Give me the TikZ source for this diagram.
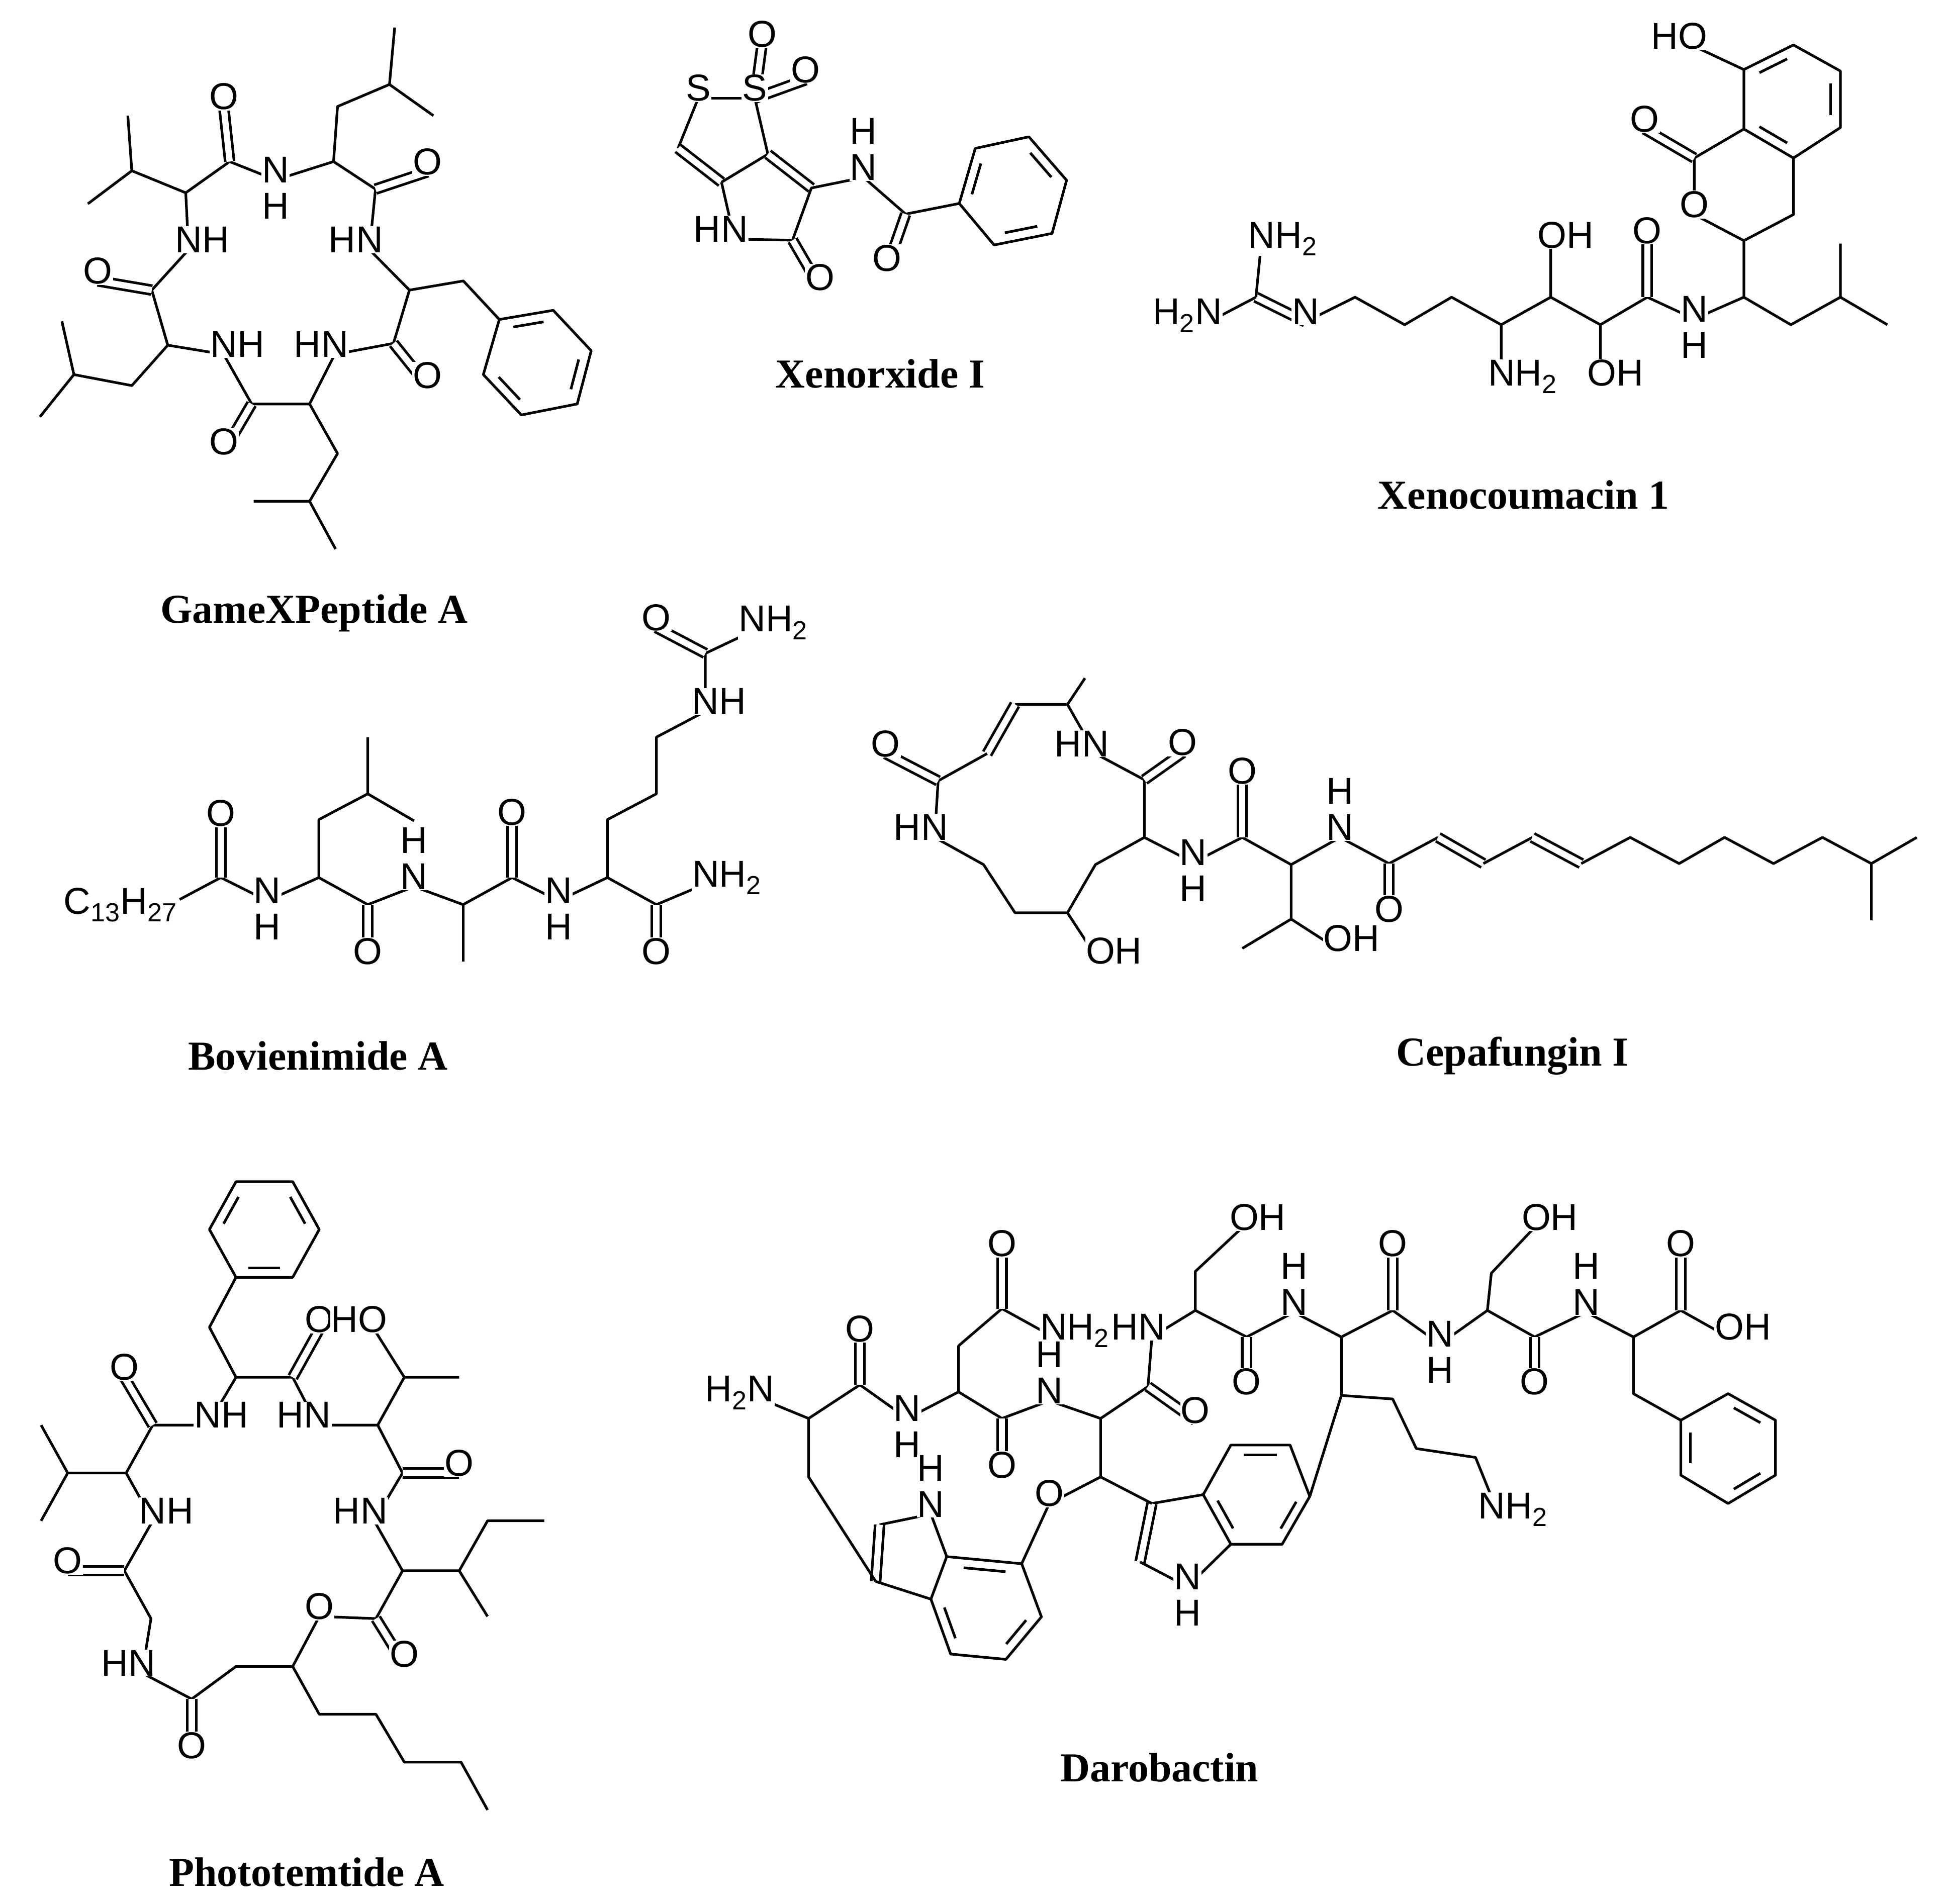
\documentclass[tikz,border=0pt]{standalone}
\usepackage{fontspec}
\setmainfont{Liberation Serif}
\newfontfamily\af{Liberation Sans}
\usetikzlibrary{calc}
\tikzset{atm/.style={font=\af\fontsize{30}{33}\selectfont,inner sep=0.5pt,fill=white,anchor=mid},
captxt/.style={font=\bfseries\fontsize{33}{37}\selectfont},
dbl/.style={double,double distance=5pt}}
\newcommand\A[2]{\node[atm] at (#1){#2};}
\newcommand\Hu[1]{\node[atm,yshift=29pt] at (#1){H};}
\newcommand\Hd[1]{\node[atm,yshift=-29pt] at (#1){H};}
\newcommand\Hr[1]{\node[atm,xshift=22pt] at (#1){H};}
\newcommand\Hl[1]{\node[atm,xshift=-22pt] at (#1){H};}
\newcommand\NHtwo[1]{\node[atm,anchor=mid west,xshift=-12pt] at (#1){NH\textsubscript{2}};}
\newcommand\HtwoN[1]{\node[atm,anchor=mid east,xshift=12pt] at (#1){H\textsubscript{2}N};}
\newcommand\OHr[1]{\node[atm,anchor=mid west,xshift=-12pt] at (#1){OH};}
\newcommand\HOl[1]{\node[atm,anchor=mid east,xshift=12pt] at (#1){HO};}
\newcommand\db[2]{\draw[dbl] (#1)--(#2);}
\newcommand\ar[3]{\draw ($(#1)!.15!(#2)!.2!(#3)$)--($(#2)!.15!(#1)!.2!(#3)$);}
\begin{document}
\begin{tikzpicture}[x=1pt,y=-1pt,line width=2.1pt,line join=round]
\useasboundingbox[fill=white] (0,0) rectangle (1560.9,1527.4);
% ---------------- GameXPeptide A
\begin{scope}[shift={(0pt,0pt)},x=0.3204pt,y=-0.2946pt]
\draw (988,75)--(975,230)--(1085,315);
\draw (975,230)--(845,290)--(835,440)--(690,490);
\draw (835,440)--(940,515)--(925,680)--(1025,790)--(1160,765)--(1250,870);
\db{940,515}{1070,468}
\draw (1250,870)--(1385,845)--(1480,955)--(1445,1100)--(1305,1130)--(1210,1020)--cycle;
\ar{1250,870}{1385,845}{1345,987}\ar{1480,955}{1445,1100}{1345,987}\ar{1305,1130}{1210,1020}{1345,987}
\draw (1025,790)--(985,935)--(838,965)--(775,1100)--(630,1100)--(560,965)--(420,940)--(330,1050)--(185,1020)--(155,875);
\db{985,935}{1070,1050}
\draw (775,1100)--(845,1235)--(775,1365)--(635,1365);
\draw (775,1365)--(840,1495);
\db{630,1100}{560,1230}
\draw (185,1020)--(100,1135);
\draw (420,940)--(380,790)--(472,680)--(465,525)--(330,465)--(320,315);
\db{380,790}{245,765}
\draw (330,465)--(220,555);
\draw (465,525)--(575,440)--(690,490);
\db{575,440}{560,290}
\A{560,290}{O}\A{690,490}{N}\Hd{690,490}\A{1070,468}{O}
\A{925,680}{N}\Hl{925,680}\A{1070,1050}{O}\A{838,965}{N}\Hl{838,965}
\A{560,1230}{O}\A{560,965}{N}\Hr{560,965}\A{245,765}{O}\A{472,680}{N}\Hr{472,680}
\end{scope}
\node[captxt] at (252,492) {GameXPeptide A};
% ---------------- Xenorxide I
\begin{scope}[shift={(515.9pt,-12.1pt)},x=0.2326pt,y=-0.1550pt]
\draw (190,430)--(385,430);
\db{385,430}{410,150}\db{385,430}{560,335}
\draw (190,430)--(120,690);
\db{120,690}{270,865}
\draw (270,865)--(430,720)--(385,430);
\db{430,720}{580,895}
\draw (270,865)--(315,1160)--(515,1165)--(580,895)--(760,840)--(905,1030)--(1090,975);
\db{515,1165}{610,1410}\db{905,1030}{840,1310}
\draw (1090,975)--(1145,690)--(1330,630)--(1460,855)--(1410,1130)--(1210,1190)--cycle;
\ar{1090,975}{1145,690}{1275,910}\ar{1330,630}{1460,855}{1275,910}\ar{1410,1130}{1210,1190}{1275,910}
\A{410,150}{O}\A{560,335}{O}\A{190,430}{S}\A{385,430}{S}
\A{315,1160}{N}\Hl{315,1160}\A{610,1410}{O}\A{760,840}{N}\Hu{760,840}\A{840,1310}{O}
\end{scope}
\node[captxt] at (706,300) {Xenorxide I};
% ---------------- Xenocoumacin 1
\begin{scope}[shift={(906.9pt,0pt)},x=0.4186pt,y=-0.2326pt]
\draw (1080,160)--(1175,240);
\draw (1270,155)--(1360,245)--(1360,440)--(1270,545)--(1175,445)--(1175,240)--cycle;
\ar{1175,240}{1270,155}{1267,345}\ar{1360,245}{1360,440}{1267,345}\ar{1270,545}{1175,445}{1267,345}
\draw (1175,445)--(1080,545)--(1080,740)--(1175,830)--(1270,740)--(1270,545);
\db{1080,545}{985,445}
\draw (1175,830)--(1175,1025)--(1265,1120)--(1360,1025)--(1360,840);
\draw (1360,1025)--(1450,1120);
\draw (1175,1025)--(1080,1100)--(990,1025)--(900,1120)--(900,1320);
\db{990,1025}{990,830}
\draw (900,1120)--(805,1025)--(805,845);
\draw (805,1025)--(710,1120)--(710,1320);
\draw (710,1120)--(615,1025)--(525,1120)--(430,1025)--(335,1110);
\db{335,1110}{240,1025}
\draw (240,1025)--(250,845);
\draw (240,1025)--(150,1110);
\HOl{1080,160}\A{985,445}{O}\A{1080,740}{O}\A{990,830}{O}
\A{1080,1100}{N}\Hd{1080,1100}
\OHr{900,1320}\OHr{805,845}\NHtwo{710,1320}
\A{335,1110}{N}\NHtwo{250,845}\HtwoN{150,1110}
\end{scope}
\node[captxt] at (1222,397) {Xenocoumacin 1};
% ---------------- Bovienimide A
\begin{scope}[shift={(24.2pt,-475.6pt)},x=0.4134pt,y=-0.2067pt]
\draw (290,1190)--(370,1105)--(460,1195)--(560,1105)--(655,1210)--(745,1140)--(840,1210)--(935,1105)--(1025,1195)--(1120,1105)--(1215,1210)--(1310,1130);
\db{370,1105}{370,895}\db{655,1210}{655,1430}\db{935,1105}{935,890}\db{1215,1210}{1215,1430}
\draw (560,1105)--(560,880)--(655,780)--(655,560);
\draw (655,780)--(745,885);
\draw (840,1210)--(840,1430);
\draw (1120,1105)--(1120,880)--(1215,780)--(1215,560)--(1310,460)--(1310,235)--(1400,150);
\db{1310,235}{1215,135}
\node[atm] at (175,1235) {C\textsubscript{13}H\textsubscript{27}};
\A{370,895}{O}\A{460,1195}{N}\Hd{460,1195}\A{655,1430}{O}
\A{745,1140}{N}\Hu{745,1140}\A{935,890}{O}\A{1025,1195}{N}\Hd{1025,1195}
\A{1215,1430}{O}\NHtwo{1310,1130}\A{1310,460}{N}\Hr{1310,460}\A{1215,135}{O}\NHtwo{1400,140}
\end{scope}
\node[captxt] at (255,847) {Bovienimide A};
% ---------------- Cepafungin I
\begin{scope}[shift={(685.2pt,-544.1pt)},x=0.5607pt,y=-0.1680pt]
\draw (330,0)--(305,125)--(230,125);
\db{230,125}{190,360}
\draw (305,125)--(345,360)--(415,485)--(415,760)--(345,890)--(305,1120)--(230,1120)--(185,890)--(115,760)--(120,490)--(190,360);
\db{120,490}{45,360}\db{415,485}{470,355}
\draw (305,1120)--(350,1350);
\draw (415,760)--(485,880)--(555,760)--(625,890)--(695,760)--(765,885)--(835,760);
\db{555,760}{555,490}
\draw (625,890)--(625,1150)--(555,1290);
\draw (625,1150)--(690,1290);
\db{765,885}{765,1150}
\db{835,760}{900,885}
\draw (900,885)--(970,760);
\db{970,760}{1040,885}
\draw (1040,885)--(1110,760)--(1180,885)--(1245,760)--(1315,885)--(1385,760)--(1455,885)--(1520,760);
\draw (1455,885)--(1455,1155);
\A{45,360}{O}\A{345,360}{N}\Hl{345,360}\A{470,355}{O}\A{115,760}{N}\Hl{115,760}
\OHr{350,1350}\A{485,880}{N}\Hd{485,880}\A{555,490}{O}\A{695,760}{N}\Hu{695,760}
\A{765,1150}{O}\OHr{690,1290}
\end{scope}
\node[captxt] at (1213,847) {Cepafungin I};
% ---------------- Phototemtide A
\begin{scope}[shift={(20.2pt,-927pt)},x=0.2842pt,y=-0.3488pt]
\draw (595,60)--(755,60)--(830,170)--(755,280)--(595,280)--(520,170)--cycle;
\ar{755,60}{830,170}{675,170}\ar{755,280}{595,280}{675,170}\ar{520,170}{595,60}{675,170}
\draw (595,280)--(520,395)--(595,510)--(755,510)--(825,620)--(995,620)--(1065,730)--(985,840)--(1065,955)--(990,1065)--(830,1060)--(755,1175)--(595,1175)--(470,1250)--(330,1190)--(355,1065)--(280,955)--(360,840)--(285,730)--(360,620)--(515,620)--(595,510);
\db{755,510}{830,400}\db{1065,730}{1225,730}\db{990,1065}{1070,1170}\db{470,1250}{470,1380}\db{280,955}{120,955}\db{360,620}{280,510}
\draw (995,620)--(1070,510)--(1225,510);
\draw (1070,510)--(985,400);
\draw (285,730)--(120,730)--(45,620);
\draw (120,730)--(45,840);
\draw (1065,955)--(1225,955)--(1305,840)--(1465,840);
\draw (1225,955)--(1305,1060);
\draw (755,1175)--(830,1285)--(990,1285)--(1070,1395)--(1230,1395)--(1305,1505);
\A{830,400}{O}\HOl{985,400}\A{280,510}{O}\A{515,620}{N}\Hr{515,620}
\A{825,620}{N}\Hl{825,620}\A{1225,730}{O}\A{360,840}{N}\Hr{360,840}
\A{985,840}{N}\Hl{985,840}\A{120,955}{O}\A{830,1060}{O}\A{1070,1170}{O}
\A{330,1190}{N}\Hl{330,1190}\A{470,1380}{O}
\end{scope}
\node[captxt] at (246,1502) {Phototemtide A};
% ---------------- Darobactin
\begin{scope}[shift={(544.1pt,-967.4pt)},x=0.6331pt,y=-0.2842pt]
\draw (105,545)--(165,600)--(230,505)--(290,600)--(355,525)--(410,600)--(470,550)--(535,600)--(595,510)--(600,370)--(655,295)--(720,370)--(780,300)--(840,370)--(905,295)--(965,390)--(1025,295)--(1085,370)--(1150,300)--(1210,370)--(1270,295)--(1330,370);
\db{230,505}{230,375}\db{410,600}{410,760}\db{595,510}{655,605}\db{720,370}{720,525}\db{905,295}{905,135}\db{1085,370}{1085,525}\db{1270,295}{1270,135}
\draw (355,525)--(355,395)--(410,290)--(475,370);
\db{410,290}{410,135}
\draw (655,295)--(655,185)--(715,60);
\draw (1025,295)--(1030,190)--(1085,60);
\draw (1210,370)--(1210,530)--(1270,605);
\draw (1270,605)--(1330,530)--(1390,605)--(1390,760)--(1330,840)--(1270,760)--cycle;
\ar{1330,530}{1390,605}{1330,685}\ar{1390,760}{1330,840}{1330,685}\ar{1270,760}{1270,605}{1330,685}
\draw (840,370)--(840,535)--(905,545)--(935,685)--(1010,710)--(1030,820);
\draw (840,535)--(800,820);
\draw (700,675)--(775,675)--(800,820)--(765,955)--(700,955)--(665,815)--cycle;
\ar{700,675}{775,675}{735,815}\ar{800,820}{765,955}{735,815}\ar{700,955}{665,815}{735,815}
\draw (665,815)--(600,840);
\db{600,840}{585,1005}
\draw (585,1005)--(645,1075)--(700,955);
\draw (600,840)--(535,765)--(535,600);
\draw (535,765)--(470,840)--(435,1010);
\draw (435,1010)--(460,1160)--(415,1280)--(345,1265)--(320,1110)--(340,990)--cycle;
\ar{340,990}{435,1010}{390,1135}\ar{460,1160}{415,1280}{390,1135}\ar{345,1265}{320,1110}{390,1135}
\draw (340,990)--(320,870)--(255,900);
\db{255,900}{250,1060}
\draw (250,1060)--(320,1110);
\draw (250,1060)--(165,765)--(165,600);
\HtwoN{105,545}\A{290,600}{N}\Hd{290,600}\A{230,375}{O}\A{410,135}{O}
\NHtwo{475,370}\A{600,370}{N}\Hl{600,370}\A{410,760}{O}\A{470,550}{N}\Hu{470,550}
\A{655,605}{O}\A{720,525}{O}\OHr{715,60}\A{780,300}{N}\Hu{780,300}\A{905,135}{O}
\A{965,390}{N}\Hd{965,390}\OHr{1085,60}\A{1085,525}{O}\A{1150,300}{N}\Hu{1150,300}
\A{1270,135}{O}\OHr{1330,370}\NHtwo{1030,875}\A{470,840}{O}
\A{320,870}{N}\Hu{320,870}\A{645,1075}{N}\Hd{645,1075}
\end{scope}
\node[captxt] at (930,1418) {Darobactin};
\end{tikzpicture}
\end{document}
